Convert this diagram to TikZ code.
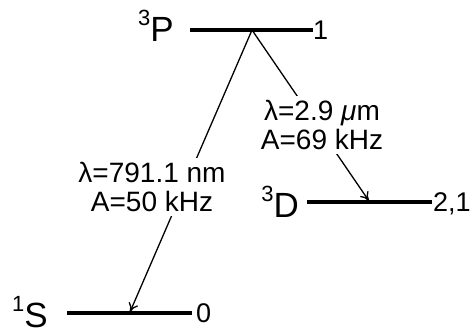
\documentclass[tikz,border=0pt]{standalone}
\usepackage{fontspec}
\setmainfont{Liberation Sans}
\usetikzlibrary{arrows.meta}
\begin{document}
\begin{tikzpicture}[x=1pt,y=1pt,
  level/.style={line width=4pt},
  trans/.style={line width=1.3pt,-{To[length=9pt,width=10pt,line width=1.3pt]}},
  statelbl/.style={inner sep=0pt,anchor=base east,font=\fontsize{35}{35}\selectfont},
  jlbl/.style={inner sep=0pt,anchor=base west,font=\fontsize{27}{27}\selectfont},
  translbl/.style={fill=white,inner sep=4.5pt,align=center,font=\fontsize{28}{29}\selectfont}]
\useasboundingbox (0,0) rectangle (476,335);
% levels
\coordinate (PL) at (190,305); \coordinate (PR) at (313,305);
\coordinate (DL) at (307,133); \coordinate (DR) at (432,133);
\coordinate (SL) at (67,22);   \coordinate (SR) at (192,22);
\draw[level] (PL) -- (PR);
\draw[level] (DL) -- (DR);
\draw[level] (SL) -- (SR);
% state labels
\node[statelbl] (Plbl) at (174,293) {\raisebox{16pt}{\fontsize{22}{22}\selectfont 3}P};
\node[statelbl] (Dlbl) at (299,118) {\raisebox{16pt}{\fontsize{22}{22}\selectfont 3}D};
\node[statelbl] (Slbl) at (48,8) {\raisebox{16pt}{\fontsize{22}{22}\selectfont 1}S};
% J labels
\node[jlbl] (Pj) at (313,295.3) {1};
\node[jlbl] (Dj) at (433,123.3) {2,1};
\node[jlbl] (Sj) at (196,12.3) {0};
% transitions
\coordinate (Pfrom) at (252,305);
\coordinate (Dto) at (369,134);
\coordinate (Sto) at (130,23);
\draw[trans] (Pfrom) -- (Dto);
\draw[trans] (Pfrom) -- (Sto);
\node[translbl] (lamS) at (152,148) {λ=791.1 nm\\A=50 kHz};
\node[translbl] (lamD) at (322,210) {λ=2.9 \textit{μ}m\\A=69 kHz};
\end{tikzpicture}
\end{document}
